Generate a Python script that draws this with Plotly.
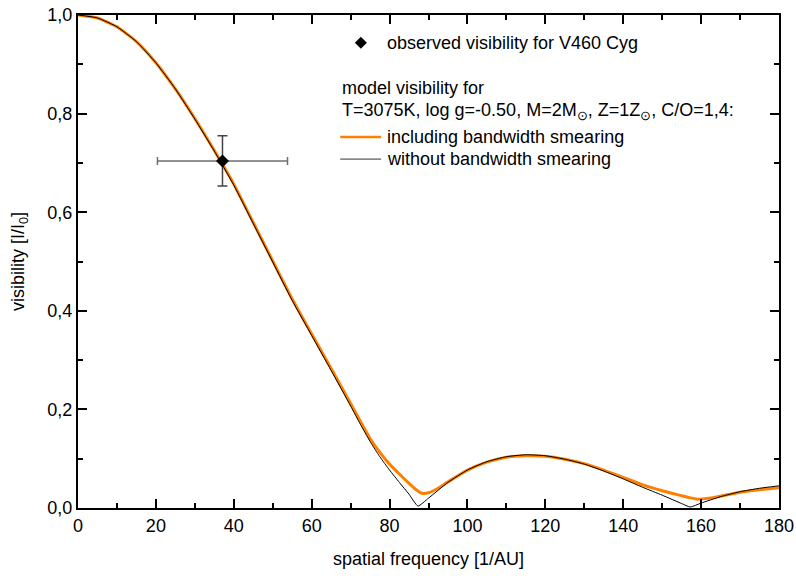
import plotly.graph_objects as go

# Model visibility without bandwidth smearing
freq_plain = [0, 5, 10, 15, 20, 25, 30, 35, 40, 45, 50, 55, 60, 65, 70, 72.5, 75, 77.5, 80,
              82.5, 85, 87.3, 90, 95, 100, 105, 110, 115, 120, 125, 130, 135, 140, 145,
              150, 155, 157.2, 160, 165, 170, 175, 180]
vis_plain = [1.000, 0.994, 0.976, 0.946, 0.903, 0.850, 0.789, 0.724, 0.655, 0.577, 0.499,
             0.421, 0.350, 0.279, 0.207, 0.170, 0.135, 0.104, 0.077,
             0.052, 0.028, 0.004, 0.020, 0.052, 0.077, 0.094, 0.104, 0.108, 0.106, 0.099,
             0.089, 0.075, 0.059, 0.042, 0.026, 0.009, 0.002, 0.010, 0.023, 0.033, 0.040,
             0.045]

# Model visibility including bandwidth smearing
freq_smear = [0, 5, 10, 15, 20, 25, 30, 35, 40, 45, 50, 55, 60, 65, 70, 72.5, 75, 77.5, 80,
              82.5, 85, 87, 88.3, 90, 92, 95, 100, 105, 110, 115, 120, 125, 130, 135, 140,
              145, 150, 155, 157, 159, 161, 163, 165, 170, 175, 180]
vis_smear = [1.000, 0.994, 0.976, 0.946, 0.903, 0.850, 0.790, 0.725, 0.657, 0.579, 0.501,
             0.424, 0.353, 0.283, 0.212, 0.176, 0.141, 0.113, 0.089,
             0.069, 0.050, 0.036, 0.030, 0.031, 0.038, 0.053, 0.077, 0.093, 0.103, 0.106,
             0.105, 0.099, 0.090, 0.077, 0.062, 0.047, 0.035, 0.025, 0.021, 0.018, 0.019,
             0.021, 0.024, 0.032, 0.037, 0.041]

# Observed visibility of V460 Cyg with its uncertainties
obs_freq = [37.1]
obs_vis = [0.704]
obs_freq_err = [16.7]
obs_vis_err = [0.051]

FONT = "Liberation Sans, Arial, sans-serif"
ORANGE = "#ff8000"
FS = 18

fig = go.Figure()

fig.add_trace(go.Scatter(
    x=freq_smear, y=vis_smear, mode="lines",
    line=dict(color=ORANGE, width=3, shape="spline", smoothing=0.5),
    showlegend=False, hoverinfo="skip"))

fig.add_trace(go.Scatter(
    x=freq_plain, y=vis_plain, mode="lines",
    line=dict(color="black", width=1, shape="spline", smoothing=0.5),
    showlegend=False, hoverinfo="skip"))

fig.add_trace(go.Scatter(
    x=obs_freq, y=obs_vis, mode="markers",
    marker=dict(symbol="diamond", size=10, color="black"),
    error_x=dict(type="data", array=obs_freq_err, color="#6e6e6e", thickness=1.5, width=4),
    error_y=dict(type="data", array=obs_vis_err, color="#444444", thickness=1.5, width=5),
    showlegend=False, hoverinfo="skip"))

# Hand-drawn key in the upper right of the plot area
def px_to_paper_x(px):
    return (px - 77.5) / 701.8

def px_to_paper_y(py):
    return (507.7 - py) / 492.7

key_font = dict(family=FONT, size=FS, color="black")
annotations = [
    dict(text="observed visibility for V460 Cyg", x=px_to_paper_x(385), y=px_to_paper_y(43)),
    dict(text="model visibility for", x=px_to_paper_x(340), y=px_to_paper_y(88)),
    dict(text="T=3075K, log g=-0.50, M=2M<sub>⊙</sub>, Z=1Z<sub>⊙</sub>, C/O=1,4:",
         x=px_to_paper_x(340), y=px_to_paper_y(111)),
    dict(text="including bandwidth smearing", x=px_to_paper_x(385), y=px_to_paper_y(137)),
    dict(text="without bandwidth smearing", x=px_to_paper_x(385), y=px_to_paper_y(159)),
]
for a in annotations:
    a.update(xref="paper", yref="paper", xanchor="left", yanchor="middle",
             showarrow=False, font=key_font)

cx, cy = 360.7, 42.7
r = 6
diamond = (f"M {px_to_paper_x(cx - r)} {px_to_paper_y(cy)} "
           f"L {px_to_paper_x(cx)} {px_to_paper_y(cy - r)} "
           f"L {px_to_paper_x(cx + r)} {px_to_paper_y(cy)} "
           f"L {px_to_paper_x(cx)} {px_to_paper_y(cy + r)} Z")
shapes = [
    dict(type="path", path=diamond, xref="paper", yref="paper",
         fillcolor="black", line=dict(width=0)),
    dict(type="line", xref="paper", yref="paper",
         x0=px_to_paper_x(340), x1=px_to_paper_x(381),
         y0=px_to_paper_y(137), y1=px_to_paper_y(137),
         line=dict(color=ORANGE, width=2.5)),
    dict(type="line", xref="paper", yref="paper",
         x0=px_to_paper_x(340), x1=px_to_paper_x(381),
         y0=px_to_paper_y(159), y1=px_to_paper_y(159),
         line=dict(color="#333333", width=1)),
]

axis_common = dict(
    showline=True, linecolor="black", linewidth=2, mirror="ticks",
    ticks="inside", ticklen=9, tickwidth=1.5, tickcolor="black",
    showgrid=False, zeroline=False, automargin=False,
    tickfont=dict(family=FONT, size=FS, color="black"),
)

fig.update_layout(
    width=796, height=576,
    margin=dict(l=78, r=17, t=15, b=68),
    paper_bgcolor="white", plot_bgcolor="white",
    separators=",.",
    font=dict(family=FONT, size=FS, color="black"),
    annotations=annotations,
    shapes=shapes,
    xaxis=dict(
        range=[0, 180], tickmode="linear", tick0=0, dtick=20,
        minor=dict(ticks="inside", ticklen=5, tickwidth=1.5, tickcolor="black",
                   tickmode="linear", tick0=0, dtick=10),
        title=dict(text="spatial frequency [1/AU]", font=dict(family=FONT, size=FS),
                   standoff=18),
        **axis_common),
    yaxis=dict(
        range=[0, 1.0], tickmode="linear", tick0=0, dtick=0.2, tickformat=".1f",
        minor=dict(ticks="inside", ticklen=5, tickwidth=1.5, tickcolor="black",
                   tickmode="linear", tick0=0, dtick=0.1),
        title=dict(text="visibility [I/I<sub>0</sub>]", font=dict(family=FONT, size=FS),
                   standoff=18),
        **axis_common),
)

fig.write_html("out.html")
